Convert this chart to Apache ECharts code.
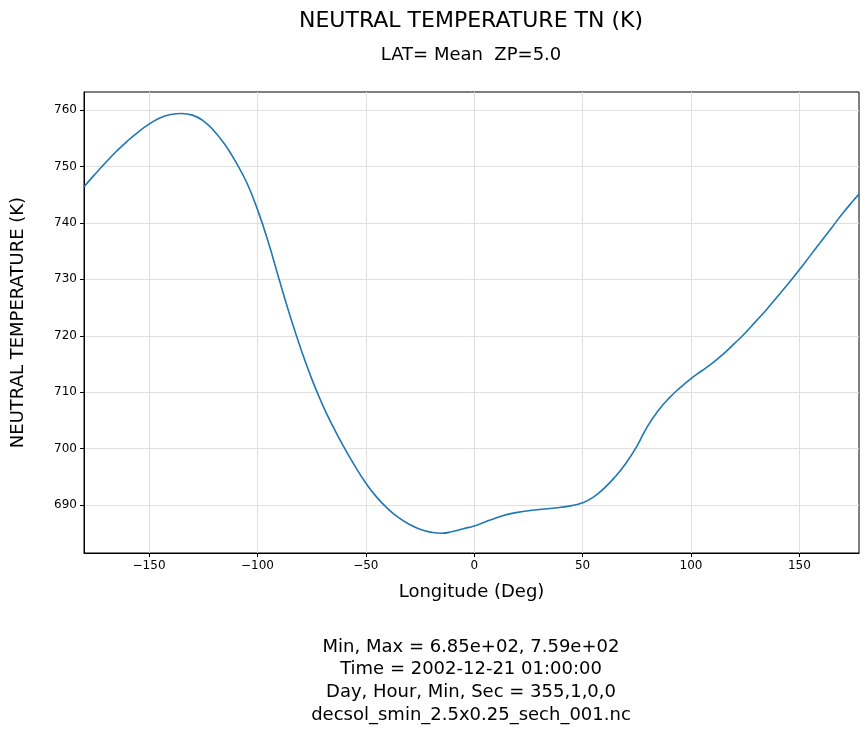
<!DOCTYPE html>
<html>
<head>
<meta charset="utf-8">
<script src="https://cdn.jsdelivr.net/npm/echarts@6/dist/echarts.min.js"></script>
<style>
  html, body { margin: 0; padding: 0; background: #fff; }
  #chart { width: 868px; height: 736px; }
</style>
</head>
<body>
<div id="chart"></div>
<script>
// longitude (deg) and neutral temperature (K)
const lons = [
  -180, -175, -170, -165, -160, -155, -150, -145, -140, -135, -130, -125,
  -120, -115, -110, -105, -100, -95, -90, -85, -80, -75, -70, -65,
  -60, -55, -50, -45, -40, -35, -30, -25, -20, -15, -10, -5,
  0, 5, 10, 15, 20, 25, 30, 35, 40, 45, 50, 55,
  60, 65, 70, 75, 80, 85, 90, 95, 100, 105, 110, 115,
  120, 125, 130, 135, 140, 145, 150, 155, 160, 165, 170, 175, 177.5
]
const temps = [
  746.4, 748.6, 750.7, 752.7, 754.5, 756.1, 757.5, 758.6, 759.2, 759.4, 759.1, 758.1,
  756.3, 753.9, 750.8, 747.2, 742.4, 736.6, 730.0, 723.6, 717.7, 712.4, 707.8, 703.8,
  700.2, 696.9, 693.9, 691.4, 689.4, 687.8, 686.6, 685.7, 685.2, 685.0, 685.3, 685.8,
  686.3, 687.0, 687.7, 688.3, 688.7, 689.0, 689.2, 689.4, 689.6, 689.9, 690.4, 691.4,
  693.0, 695.0, 697.4, 700.4, 704.0, 706.8, 709.0, 710.8, 712.4, 713.8, 715.2, 716.8,
  718.6, 720.5, 722.6, 724.7, 727.0, 729.3, 731.7, 734.2, 736.7, 739.2, 741.7, 744.0, 745.1
]
const xTicks = [-150, -100, -50, 0, 50, 100, 150]
const yTicks = [690, 700, 710, 720, 730, 740, 750, 760]
const footerLines = [
  'Min, Max = 6.85e+02, 7.59e+02',
  'Time = 2002-12-21 01:00:00',
  'Day, Hour, Min, Sec = 355,1,0,0',
  'decsol_smin_2.5x0.25_sech_001.nc'
]

const font = 'DejaVu Sans'
const minus = v => (v < 0 ? '\u2212' + Math.abs(v) : String(v))

const chart = echarts.init(document.getElementById('chart'))

const footer = footerLines.map((t, i) => ({
  type: 'text',
  x: 471,
  y: 647 + i * 22.7,
  style: {
    text: t,
    font: '18px ' + font,
    fill: '#000',
    textAlign: 'center',
    textVerticalAlign: 'middle'
  }
}))

chart.setOption({
  animation: false,
  grid: {
    left: 84,
    right: 9,
    top: 92,
    bottom: 183,
    show: true,
    borderColor: '#000',
    borderWidth: 1,
    containLabel: false,
    outerBoundsMode: 'none'
  },
  graphic: [
    {
      type: 'text',
      x: 471,
      y: 21,
      style: {
        text: 'NEUTRAL TEMPERATURE TN (K)',
        font: '22px ' + font,
        fill: '#000',
        textAlign: 'center',
        textVerticalAlign: 'middle'
      }
    },
    {
      type: 'text',
      x: 471,
      y: 55,
      style: {
        text: 'LAT= Mean  ZP=5.0',
        font: '18px ' + font,
        fill: '#000',
        textAlign: 'center',
        textVerticalAlign: 'middle'
      }
    }
  ].concat(footer),
  xAxis: {
    type: 'value',
    min: -180,
    max: 177.5,
    name: 'Longitude (Deg)',
    nameLocation: 'middle',
    nameGap: 30,
    nameTextStyle: { fontFamily: font, fontSize: 18, color: '#000' },
    axisLine: { show: true, onZero: false, lineStyle: { color: '#000', width: 1 } },
    axisTick: { show: true, length: 4, customValues: xTicks, lineStyle: { color: '#000' } },
    axisLabel: {
      customValues: xTicks,
      margin: 7,
      fontFamily: font,
      fontSize: 12,
      color: '#000',
      formatter: minus
    },
    splitLine: { show: true, lineStyle: { color: '#e0e0e0', width: 1 } }
  },
  yAxis: {
    type: 'value',
    min: 681.5,
    max: 763.2,
    name: 'NEUTRAL TEMPERATURE (K)',
    nameLocation: 'middle',
    nameGap: 57,
    nameTextStyle: { fontFamily: font, fontSize: 18, color: '#000' },
    axisLine: { show: true, onZero: false, lineStyle: { color: '#000', width: 1 } },
    axisTick: { show: true, length: 4, customValues: yTicks, lineStyle: { color: '#000' } },
    axisLabel: {
      customValues: yTicks,
      margin: 7,
      fontFamily: font,
      fontSize: 12,
      color: '#000'
    },
    splitLine: { show: true, lineStyle: { color: '#e0e0e0', width: 1 } }
  },
  series: [{
    type: 'line',
    data: lons.map((x, i) => [x, temps[i]]),
    smooth: 0.5,
    showSymbol: false,
    lineStyle: { color: '#1f77b4', width: 1.6 },
    itemStyle: { color: '#1f77b4' }
  }]
})
</script>
</body>
</html>
